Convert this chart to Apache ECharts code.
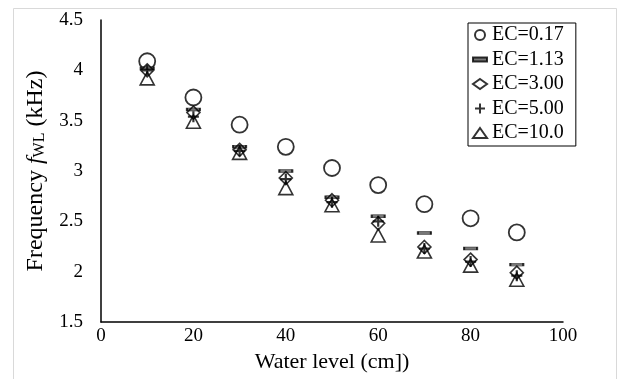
<!DOCTYPE html>
<html><head><meta charset="utf-8">
<script src="https://cdn.jsdelivr.net/npm/echarts@6/dist/echarts.min.js"></script>
<style>html,body{margin:0;padding:0;background:#fff}#c{width:622px;height:379px}</style>
</head><body><div id="c"></div>
<script>
const waterLevel = [10, 20, 30, 40, 50, 60, 70, 80, 90];
const ec017 = [4.09, 3.73, 3.46, 3.24, 3.03, 2.86, 2.67, 2.53, 2.39];
const ec113 = [4.02, 3.61, 3.24, 3.00, 2.74, 2.55, 2.385, 2.23, 2.07];
const ec300 = [4.00, 3.58, 3.21, 2.93, 2.71, 2.48, 2.245, 2.12, 1.99];
const ec500 = [4.00, 3.54, 3.20, 2.92, 2.69, 2.50, 2.23, 2.10, 1.96];
const ec1000 = [3.92, 3.49, 3.18, 2.83, 2.66, 2.36, 2.20, 2.06, 1.92];
const seriesNames = ['EC=0.17', 'EC=1.13', 'EC=3.00', 'EC=5.00', 'EC=10.0'];

const FONT = 'Liberation Serif';
const pair = arr => waterLevel.map((x, i) => [x, arr[i]]);
const PLUS = 'path://M4,0H6V4H10V6H6V10H4V6H0V4H4Z';
const DASH = 'path://M0,0H14V4H0Z';
const open = { color: 'rgba(0,0,0,0)', borderColor: '#000', borderWidth: 1.6 };

const chart = echarts.init(document.getElementById('c'));
chart.setOption({
  animation: false,
  backgroundColor: '#fff',
  textStyle: { fontFamily: FONT },
  graphic: [{ type: 'rect', shape: { x: 13.5, y: 8.5, width: 603, height: 400 }, style: { fill: 'none', stroke: '#d9d9d9', lineWidth: 1 }, silent: true }],
  grid: { left: 101, right: 59, top: 20, bottom: 57 },
  legend: {
    left: 468, top: 23, orient: 'vertical',
    backgroundColor: '#fff', borderColor: '#000', borderWidth: 1,
    padding: [2, 12, 3, 4], itemGap: 4.5, itemWidth: 14, itemHeight: 10,
    textStyle: { fontFamily: FONT, fontSize: 20, color: '#000', lineHeight: 20 },
    data: [
      { name: seriesNames[0], icon: 'circle' },
      { name: seriesNames[1], icon: DASH },
      { name: seriesNames[2], icon: 'diamond' },
      { name: seriesNames[3], icon: PLUS },
      { name: seriesNames[4], icon: 'triangle' }
    ]
  },
  xAxis: {
    type: 'value', min: 0, max: 100, interval: 20,
    name: 'Water level (cm])', nameLocation: 'middle', nameGap: 21,
    nameTextStyle: { fontFamily: FONT, fontSize: 22, color: '#000' },
    axisLine: { lineStyle: { color: '#000', width: 1.5 } },
    axisTick: { show: false }, splitLine: { show: false },
    axisLabel: { fontFamily: FONT, fontSize: 19, color: '#000', margin: 5 }
  },
  yAxis: {
    type: 'value', min: 1.5, max: 4.5, interval: 0.5,
    name: '{n|Frequency }{i|f}{s|WL}{n| (kHz)}', nameLocation: 'middle', nameGap: 53, nameRotate: 90,
    nameTextStyle: {
      color: '#000',
      rich: {
        n: { fontFamily: FONT, fontSize: 24, color: '#000' },
        i: { fontFamily: FONT, fontSize: 24, fontStyle: 'italic', color: '#000' },
        s: { fontFamily: FONT, fontSize: 16, color: '#000', padding: [9, 0, 0, 0] }
      }
    },
    axisLine: { show: true, lineStyle: { color: '#000', width: 1.5 } },
    axisTick: { show: false }, splitLine: { show: false },
    axisLabel: { fontFamily: FONT, fontSize: 19, color: '#000', margin: 18,
      formatter: v => String(+v.toFixed(1)) }
  },
  series: [
    { name: seriesNames[0], type: 'scatter', data: pair(ec017), symbol: 'circle', symbolSize: 16, itemStyle: Object.assign({}, open, { borderWidth: 1.8 }) },
    { name: seriesNames[1], type: 'scatter', data: pair(ec113), symbol: 'rect', symbolSize: [13, 3], itemStyle: { color: '#555', borderColor: '#000', borderWidth: 1 } },
    { name: seriesNames[2], type: 'scatter', data: pair(ec300), symbol: 'diamond', symbolSize: [13, 13], itemStyle: open },
    { name: seriesNames[3], type: 'scatter', data: pair(ec500), symbol: PLUS, symbolSize: 11, itemStyle: { color: '#000' } },
    { name: seriesNames[4], type: 'scatter', data: pair(ec1000), symbol: 'triangle', symbolSize: [14, 13], itemStyle: open }
  ]
});
</script></body></html>
